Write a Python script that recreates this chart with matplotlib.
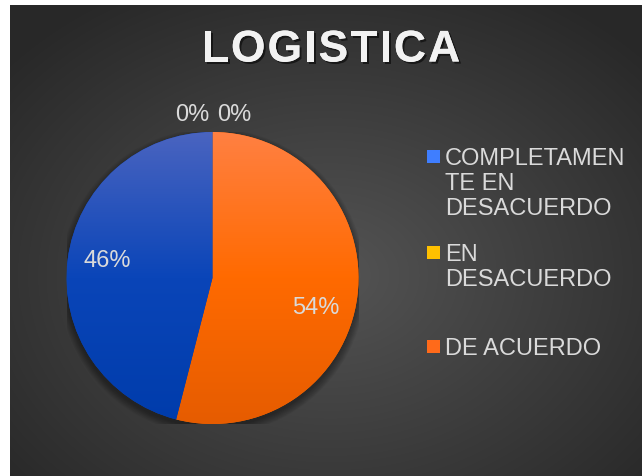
import numpy as np
import matplotlib
matplotlib.use('Agg')
import matplotlib.pyplot as plt
import matplotlib.patheffects as pe
from matplotlib.colors import LinearSegmentedColormap
from matplotlib.patches import Rectangle, Circle

# datos
categories = ['COMPLETAMENTE EN DESACUERDO', 'EN DESACUERDO', 'DE ACUERDO', 'TOTALMENTE DE ACUERDO']
values = [46, 0, 54, 0]
legend_labels = ['COMPLETAMEN\nTE EN\nDESACUERDO', 'EN\nDESACUERDO', 'DE ACUERDO']
title = 'LOGISTICA'

# colores (arriba -> abajo en cada porcion)
top_colors = ['#4A64C0', '#FFD040', '#FF8042', '#C0C0C0']
mid_colors = ['#0A45B8', '#FFC000', '#FF6A00', '#A5A5A5']
bottom_colors = ['#003CAB', '#F0B000', '#E65C00', '#909090']
legend_colors = ['#3F7EFF', '#FFC000', '#FF6A1A']

# orden de las porciones en sentido horario desde arriba
order = [3, 2, 0, 1]

plt.rcParams['font.family'] = ['Liberation Sans', 'DejaVu Sans']
fig = plt.figure(figsize=(6.42, 4.77), dpi=100)
fig.patch.set_facecolor('white')

# fondo con degradado radial
W, H = 642, 477
bg = fig.add_axes([10 / W, 0, (W - 10) / W, (H - 6) / H])
yy, xx = np.mgrid[0:471, 0:632]
r = np.sqrt(((xx - 320) / 430) ** 2 + ((yy - 270) / 330) ** 2)
bg_cmap = LinearSegmentedColormap.from_list('bg', ['#545454', '#282828'])
bg.imshow(np.clip(r, 0, 1), cmap=bg_cmap, aspect='auto', interpolation='bilinear')
bg.axis('off')

# titulo (letra por letra para imitar el espaciado)
tx = fig.text(331 / W, 1 - 51 / H, title, ha='center', va='center', fontsize=32,
              fontweight='bold', color='#F2F2F2')
fig.canvas.draw()
ext = tx.get_window_extent()
tx.remove()
spacing = 2.0
total = ext.width + spacing * (len(title) - 1)
x = 331 - total / 2
renderer = fig.canvas.get_renderer()
for ch in title:
    t = fig.text(x / W, 1 - 51 / H, ch, ha='left', va='center', fontsize=32,
                 fontweight='bold', color='#F2F2F2',
                 path_effects=[pe.withSimplePatchShadow(offset=(1.5, -1.5), shadow_rgbFace='black', alpha=0.55),
                               pe.Normal()])
    x += t.get_window_extent(renderer).width + spacing

# pastel
R = 146
ax = fig.add_axes([(212.5 - R) / W, (H - 279 - R) / H, 2 * R / W, 2 * R / H])
ax.axis('off')

# sombra
for k in range(8):
    ax.add_patch(Circle((0, -0.025), 1 + 0.007 * k, color='black', alpha=0.05, lw=0, zorder=0))

vals = [values[i] for i in order]
wedges, texts, autotexts = ax.pie(vals, colors=[mid_colors[i] for i in order], startangle=90,
                                  counterclock=False, autopct=lambda p: f'{p:.0f}%',
                                  pctdistance=0.73, wedgeprops=dict(linewidth=0),
                                  textprops=dict(color='#DADADA', fontsize=17))

grad = np.linspace(0, 1, 256).reshape(-1, 1)
for w, i in zip(wedges, order):
    cm = LinearSegmentedColormap.from_list('s', [top_colors[i], mid_colors[i], bottom_colors[i]])
    im = ax.imshow(grad, extent=[-1, 1, -1, 1], cmap=cm, aspect='auto', zorder=2)
    im.set_clip_path(w)

# etiquetas: 0% arriba del pastel separadas a los lados, 54% un poco mas abajo
side = {3: 0.15, 1: -0.14}
for t, w, i in zip(autotexts, wedges, order):
    t.set_zorder(5)
    if values[i] == 0:
        ang = np.deg2rad(w.theta1)
        t.set_position((1.12 * np.cos(ang) + side[i], 1.12 * np.sin(ang)))
    elif i == 2:
        px, py = t.get_position()
        t.set_position((px - 0.02, py - 0.11))
    else:
        px, py = t.get_position()
        t.set_position((px, py + 0.03))

ax.set_xlim(-1, 1)
ax.set_ylim(-1, 1)

# leyenda
lx = 427
line_y = [157, 253, 347]
for lab, c, y0 in zip(legend_labels, legend_colors, line_y):
    fig.patches.append(Rectangle((lx / W, 1 - (y0 + 6.5) / H), 13 / W, 13 / H,
                                 transform=fig.transFigure, facecolor=c, edgecolor='none'))
    fig.text(445 / W, 1 - (y0 - 9) / H, lab, ha='left', va='top', fontsize=17,
             color='#DADADA', linespacing=1.17)

fig.savefig('out.png', dpi=100)
